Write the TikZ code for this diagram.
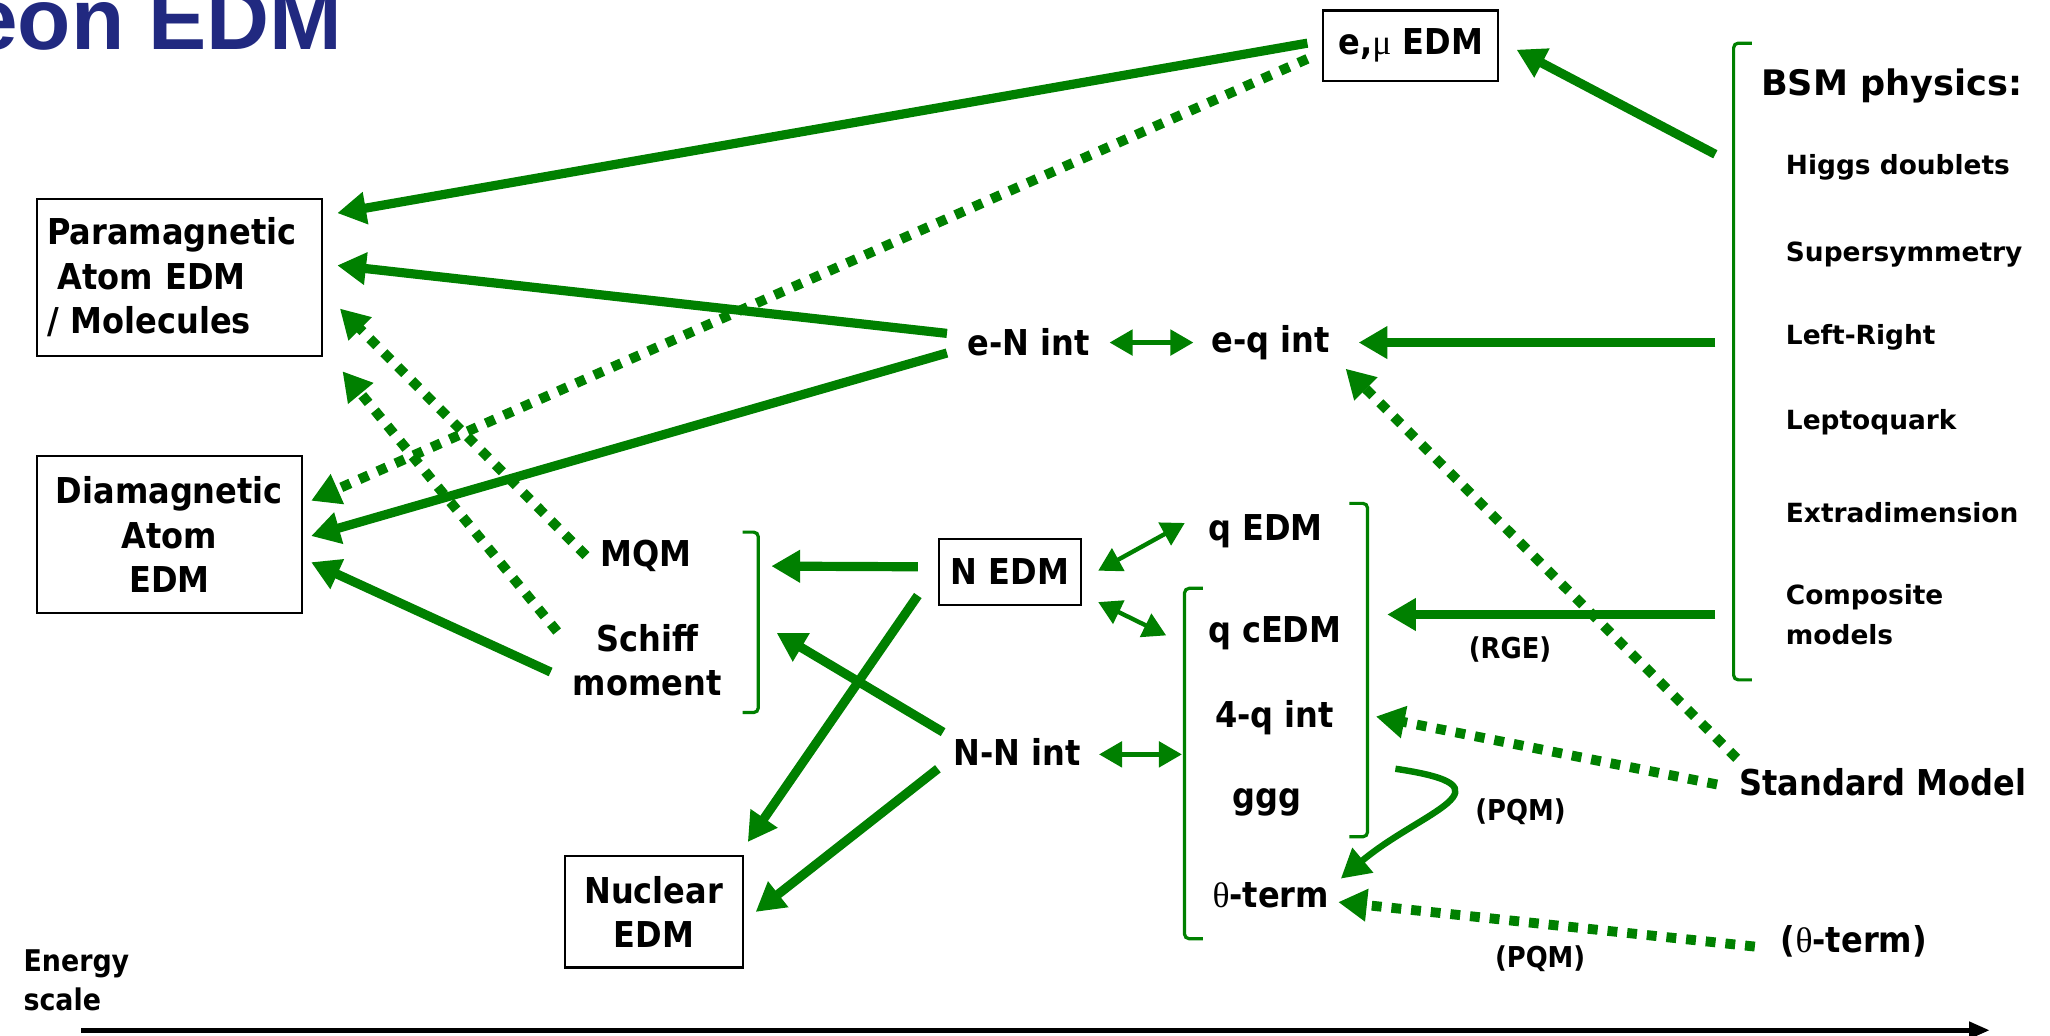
\documentclass[tikz,border=0pt]{standalone}
\usepackage{fontspec}
\setmainfont{DejaVu Sans Condensed}
\newfontfamily\bsmfont{DejaVu Sans}
\newfontfamily\greekfont{Liberation Serif}
\newfontfamily\titlefont{Liberation Sans}
\usetikzlibrary{arrows.meta}

\definecolor{edmgreen}{RGB}{0,128,0}
\definecolor{edmtitle}{RGB}{33,41,128}
\newcommand{\thetasym}{{\greekfont\mdseries θ}}
\newcommand{\musym}{{\greekfont\mdseries μ}}

\begin{document}
\begin{tikzpicture}[
  x=0.02cm,
  y=-0.02cm,
  every node/.style={inner sep=0pt, outer sep=0pt},
  term/.style={font=\bfseries\fontsize{15.5}{19.4}\selectfont, align=center},
  smallterm/.style={font=\bfseries\fontsize{12.5}{15}\selectfont, align=center},
  titleterm/.style={font=\titlefont\bfseries\fontsize{38}{44}\selectfont, text=edmtitle},
  bsmhead/.style={font=\bsmfont\bfseries\fontsize{15.3}{18}\selectfont, anchor=west},
  bsmitem/.style={font=\bsmfont\bfseries\fontsize{11.5}{17.6}\selectfont, anchor=west, align=left},
  edmbox/.style={term, draw=black, line width=0.9pt},
  flow/.style={draw=edmgreen, line width=4pt, -{Triangle[length=12.5pt,width=13.5pt]}},
  weak/.style={flow, line width=4.3pt, dash pattern=on 4.3pt off 4.3pt},
  link/.style={draw=edmgreen, line width=1.9pt, {Triangle[length=10pt,width=11pt]}-{Triangle[length=10pt,width=11pt]}},
  brk/.style={draw=edmgreen, line width=1.4pt, rounded corners=2pt},
  axis/.style={draw=black, line width=2.2pt, -{Triangle[length=9pt,width=7pt]}}
]

  \path[use as bounding box] (0,0) rectangle (1568,792);

  % Title, cut at the left edge.
  \node[titleterm, anchor=base east] (title) at (262,38) {eon EDM};

  % Observables.
  \node[edmbox, minimum width=2.68cm, minimum height=1.08cm] (emu) at (1079,35) {e,\musym\ EDM};
  \node[edmbox, align=left, text width=4.04cm, minimum width=4.36cm, minimum height=2.40cm] (para) at (137,212)
    {Paramagnetic\\\hspace{0.3em}Atom EDM\\/ Molecules};
  \node[edmbox, minimum width=4.06cm, minimum height=2.40cm] (dia) at (129.5,409) {Diamagnetic\\Atom\\EDM};
  \node[edmbox, minimum width=2.72cm, minimum height=1.70cm] (nuc) at (500,697.5) {Nuclear\\EDM};
  \node[edmbox, minimum width=2.18cm, minimum height=1.02cm] (nedm) at (772.5,437.5) {N EDM};

  % Intermediate terms.
  \node[term] (en) at (787,262) {e-N int};
  \node[term] (eq) at (972,262) {e-q int};
  \node[term] (mqm) at (494,425) {MQM};
  \node[term] (schiff) at (495,505) {Schiff\\moment};
  \node[term] (nn) at (778,575) {N-N int};
  \node[term] (qedm) at (968,406) {q EDM};
  \node[term] (qcedm) at (975,484) {q cEDM};
  \node[term] (fourq) at (975,549) {4-q int};
  \node[term] (ggg) at (969,614) {ggg};
  \node[term] (theta) at (972,685) {\thetasym-term};

  % Sources.
  \node[term] (sm) at (1440,598) {Standard Model};
  \node[term] (thext) at (1418,720) {(\thetasym-term)};
  \node[bsmhead] (bsm) at (1347,66) {BSM physics:};
  \foreach \name/\txt/\y in {higgs/Higgs doublets/128, susy/Supersymmetry/195,
      lr/Left-Right/258, lq/Leptoquark/323, xd/Extradimension/392}
    \node[bsmitem] (\name) at (1366,\y) {\txt};
  \node[bsmitem] (comp) at (1366,470) {Composite\\models};

  \node[smallterm] (rge) at (1155,497) {(RGE)};
  \node[smallterm] (pqma) at (1163,621) {(PQM)};
  \node[smallterm] (pqmb) at (1178,733) {(PQM)};
  \node[smallterm, anchor=west, align=left, font=\bfseries\fontsize{13}{17}\selectfont] (energy) at (18,750) {Energy\\scale};

  % Brackets.
  \draw[brk] (1340,33) -- (1326,33) -- (1326,520) -- (1340,520);
  \coordinate (bsmbrk) at (1326,276);
  \draw[brk] (568,407) -- (580,407) -- (580,545) -- (568,545);
  \coordinate (msbrk) at (580,476);
  \draw[brk] (1032,385) -- (1046,385) -- (1046,640) -- (1032,640);
  \draw[brk] (920,450) -- (906,450) -- (906,718) -- (920,718);
  \coordinate (qbrk) at (906,584);

  % Electron side.
  \draw[flow] ([shift={(-12,-2)}]emu.west) -- ([shift={(12,-49)}]para.east);
  \draw[weak] ([shift={(-12,10)}]emu.west) -- ([shift={(7,-26)}]dia.east);
  \draw[flow] ([shift={(-16,-7)}]en.west) -- ([shift={(12,-9)}]para.east);
  \draw[flow] ([shift={(-16,8)}]en.west) -- ([shift={(7,1)}]dia.east);
  \draw[link] ([shift={(15,0)}]en.east) -- ([shift={(-14,0)}]eq.west);

  % Nuclear side.
  \draw[weak] ([shift={(-11,0)}]mqm.west) -- ([shift={(14,24)}]para.east);
  \draw[weak] ([shift={(-12,-22)}]schiff.west) -- ([shift={(16,72)}]para.east);
  \draw[flow] ([shift={(-17,9)}]schiff.west) -- ([shift={(7,21)}]dia.east);
  \draw[flow] ([shift={(-16,-4)}]nedm.west) -- ([shift={(10,-43)}]msbrk);
  \draw[flow] ([shift={(-8,-15)}]nn.west) -- ([shift={(14,8)}]msbrk);
  \draw[flow] ([shift={(-16,18)}]nedm.west) -- ([shift={(4,-11)}]nuc.north east);
  \draw[flow] ([shift={(-12,13)}]nn.west) -- ([shift={(10,0)}]nuc.east);
  \draw[link] ([shift={(13,-1)}]nedm.east) -- ([shift={(-18,-6)}]qedm.west);
  \draw[link] ([shift={(13,23)}]nedm.east) -- ([shift={(-32,2)}]qcedm.west);
  \draw[link] ([shift={(14,2)}]nn.east) -- ([shift={(-2,-7)}]qbrk);

  % From new physics and the Standard Model.
  \draw[flow] ([shift={(-14,-158)}]bsmbrk) -- ([shift={(14,3)}]emu.east);
  \draw[flow] ([shift={(-14,-14)}]bsmbrk) -- ([shift={(22,0)}]eq.east);
  \draw[flow] ([shift={(-14,194)}]bsmbrk) -- ([shift={(35,-14)}]qcedm.east);
  \draw[weak] ([shift={(-2,-18)}]sm.west) -- ([shift={(12,20)}]eq.east);
  \draw[weak] ([shift={(-17,2)}]sm.west) -- ([shift={(32,-1)}]fourq.east);
  \draw[weak] ([shift={(-20,4)}]thext.west) -- ([shift={(7,5)}]theta.east);
  \draw[flow, line width=2.8pt] ([shift={(72,-26)}]ggg.east)
    .. controls +(95,14) and +(62,-52) .. ([shift={(9,-13)}]theta.east);

  % Energy axis.
  \coordinate (axl) at (62,788);
  \coordinate (axr) at (1522,788);
  \draw[axis] (axl) -- (axr);

\end{tikzpicture}
\end{document}
